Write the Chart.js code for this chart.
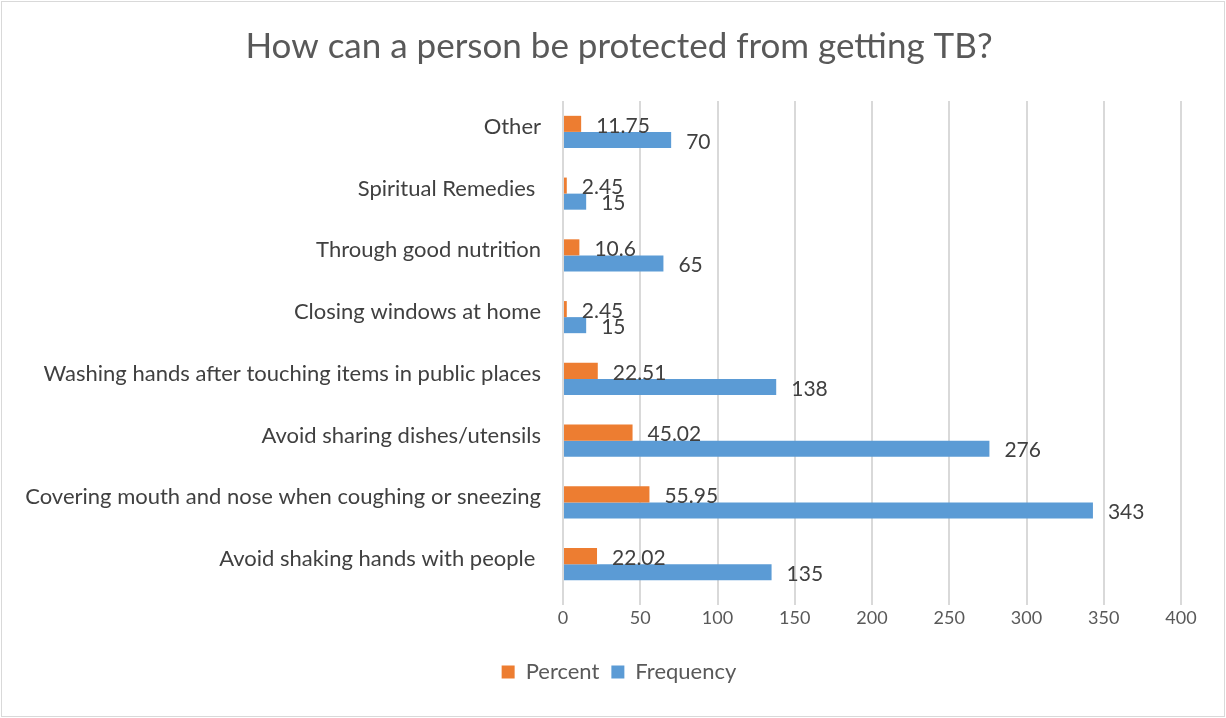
<!DOCTYPE html>
<html>
<head>
<meta charset="utf-8">
<script src="https://cdn.jsdelivr.net/npm/chart.js@4.4.0/dist/chart.umd.min.js"></script>
<style>
    html, body { margin: 0; padding: 0; background: #fff; }
    #wrap { width: 1226px; height: 718px; }
</style>
</head>
<body>
<div id="wrap"><canvas id="tbChart" width="1226" height="718"></canvas></div>
<script>
"use strict";

// categories, top to bottom as drawn
var categories = [
    "Other",
    "Spiritual Remedies ",
    "Through good nutrition",
    "Closing windows at home",
    "Washing hands after touching items in public places",
    "Avoid sharing dishes/utensils",
    "Covering mouth and nose when coughing or sneezing",
    "Avoid shaking hands with people "
];
var percentValues = [11.75, 2.45, 10.6, 2.45, 22.51, 45.02, 55.95, 22.02];
var frequencyValues = [70, 15, 65, 15, 138, 276, 343, 135];
var xTicks = [0, 50, 100, 150, 200, 250, 300, 350, 400];

var fontFamily = "Lato, 'Open Sans', sans-serif";

// white background + thin frame round the chart
var framePlugin = {
    id: "frame",
    beforeDraw: function(chart) {
        var ctx = chart.ctx;
        ctx.save();
        ctx.fillStyle = "#ffffff";
        ctx.fillRect(0, 0, chart.width, chart.height);
        ctx.strokeStyle = "#d9d9d9";
        ctx.lineWidth = 1;
        ctx.strokeRect(1.5, 1.5, chart.width - 3, chart.height - 3);
        ctx.restore();
    }
};

// value labels after each bar end
var valueLabels = {
    id: "valueLabels",
    afterDatasetsDraw: function(chart) {
        var ctx = chart.ctx;
        ctx.save();
        ctx.font = "21px " + fontFamily;
        ctx.fillStyle = "#404040";
        ctx.textBaseline = "middle";
        ctx.textAlign = "left";
        chart.data.datasets.forEach(function(ds, i) {
            var meta = chart.getDatasetMeta(i);
            meta.data.forEach(function(bar, j) {
                ctx.fillText(String(ds.data[j]), bar.x + 15, bar.y + 2);
            });
        });
        ctx.restore();
    }
};

new Chart(document.getElementById("tbChart"), {
    type: "bar",
    data: {
        labels: categories,
        datasets: [{
            label: "Percent",
            data: percentValues,
            backgroundColor: "#ED7D31",
            categoryPercentage: 0.52,
            barPercentage: 1
        }, {
            label: "Frequency",
            data: frequencyValues,
            backgroundColor: "#5B9BD5",
            categoryPercentage: 0.52,
            barPercentage: 1
        }]
    },
    options: {
        indexAxis: "y",
        responsive: false,
        animation: false,
        layout: { padding: { left: 18, right: 6, top: 0, bottom: 25 } },
        plugins: {
            title: {
                display: true,
                text: "How can a person be protected from getting TB?",
                color: "#595959",
                font: { family: fontFamily, size: 35, weight: "normal" },
                padding: { top: 26, bottom: 33 }
            },
            legend: {
                position: "bottom",
                labels: {
                    color: "#595959",
                    font: { family: fontFamily, size: 22 },
                    boxWidth: 13,
                    boxHeight: 13,
                    padding: 12
                }
            },
            tooltip: { enabled: false }
        },
        scales: {
            x: {
                min: 0,
                max: 400,
                afterBuildTicks: function(scale) {
                    scale.ticks = xTicks.map(function(v) { return { value: v }; });
                },
                afterFit: function(scale) { scale.height = 54; },
                grid: { color: "#d9d9d9", lineWidth: 2, drawTicks: true, tickLength: 10 },
                border: { display: false },
                ticks: { color: "#595959", font: { family: fontFamily, size: 18 }, padding: 2 }
            },
            y: {
                afterFit: function(scale) { scale.width = 563 - 18; },
                grid: { display: false },
                border: { display: false },
                ticks: { color: "#404040", font: { family: fontFamily, size: 22 }, padding: 14, labelOffset: -5 }
            },
            // empty right margin so the plot ends at 400 where the original does
            yRight: {
                axis: "y",
                type: "category",
                position: "right",
                afterFit: function(scale) { scale.width = 1226 - 6 - 1181; },
                grid: { display: false },
                border: { display: false },
                ticks: { display: false }
            }
        }
    },
    plugins: [framePlugin, valueLabels]
});
</script>
</body>
</html>
